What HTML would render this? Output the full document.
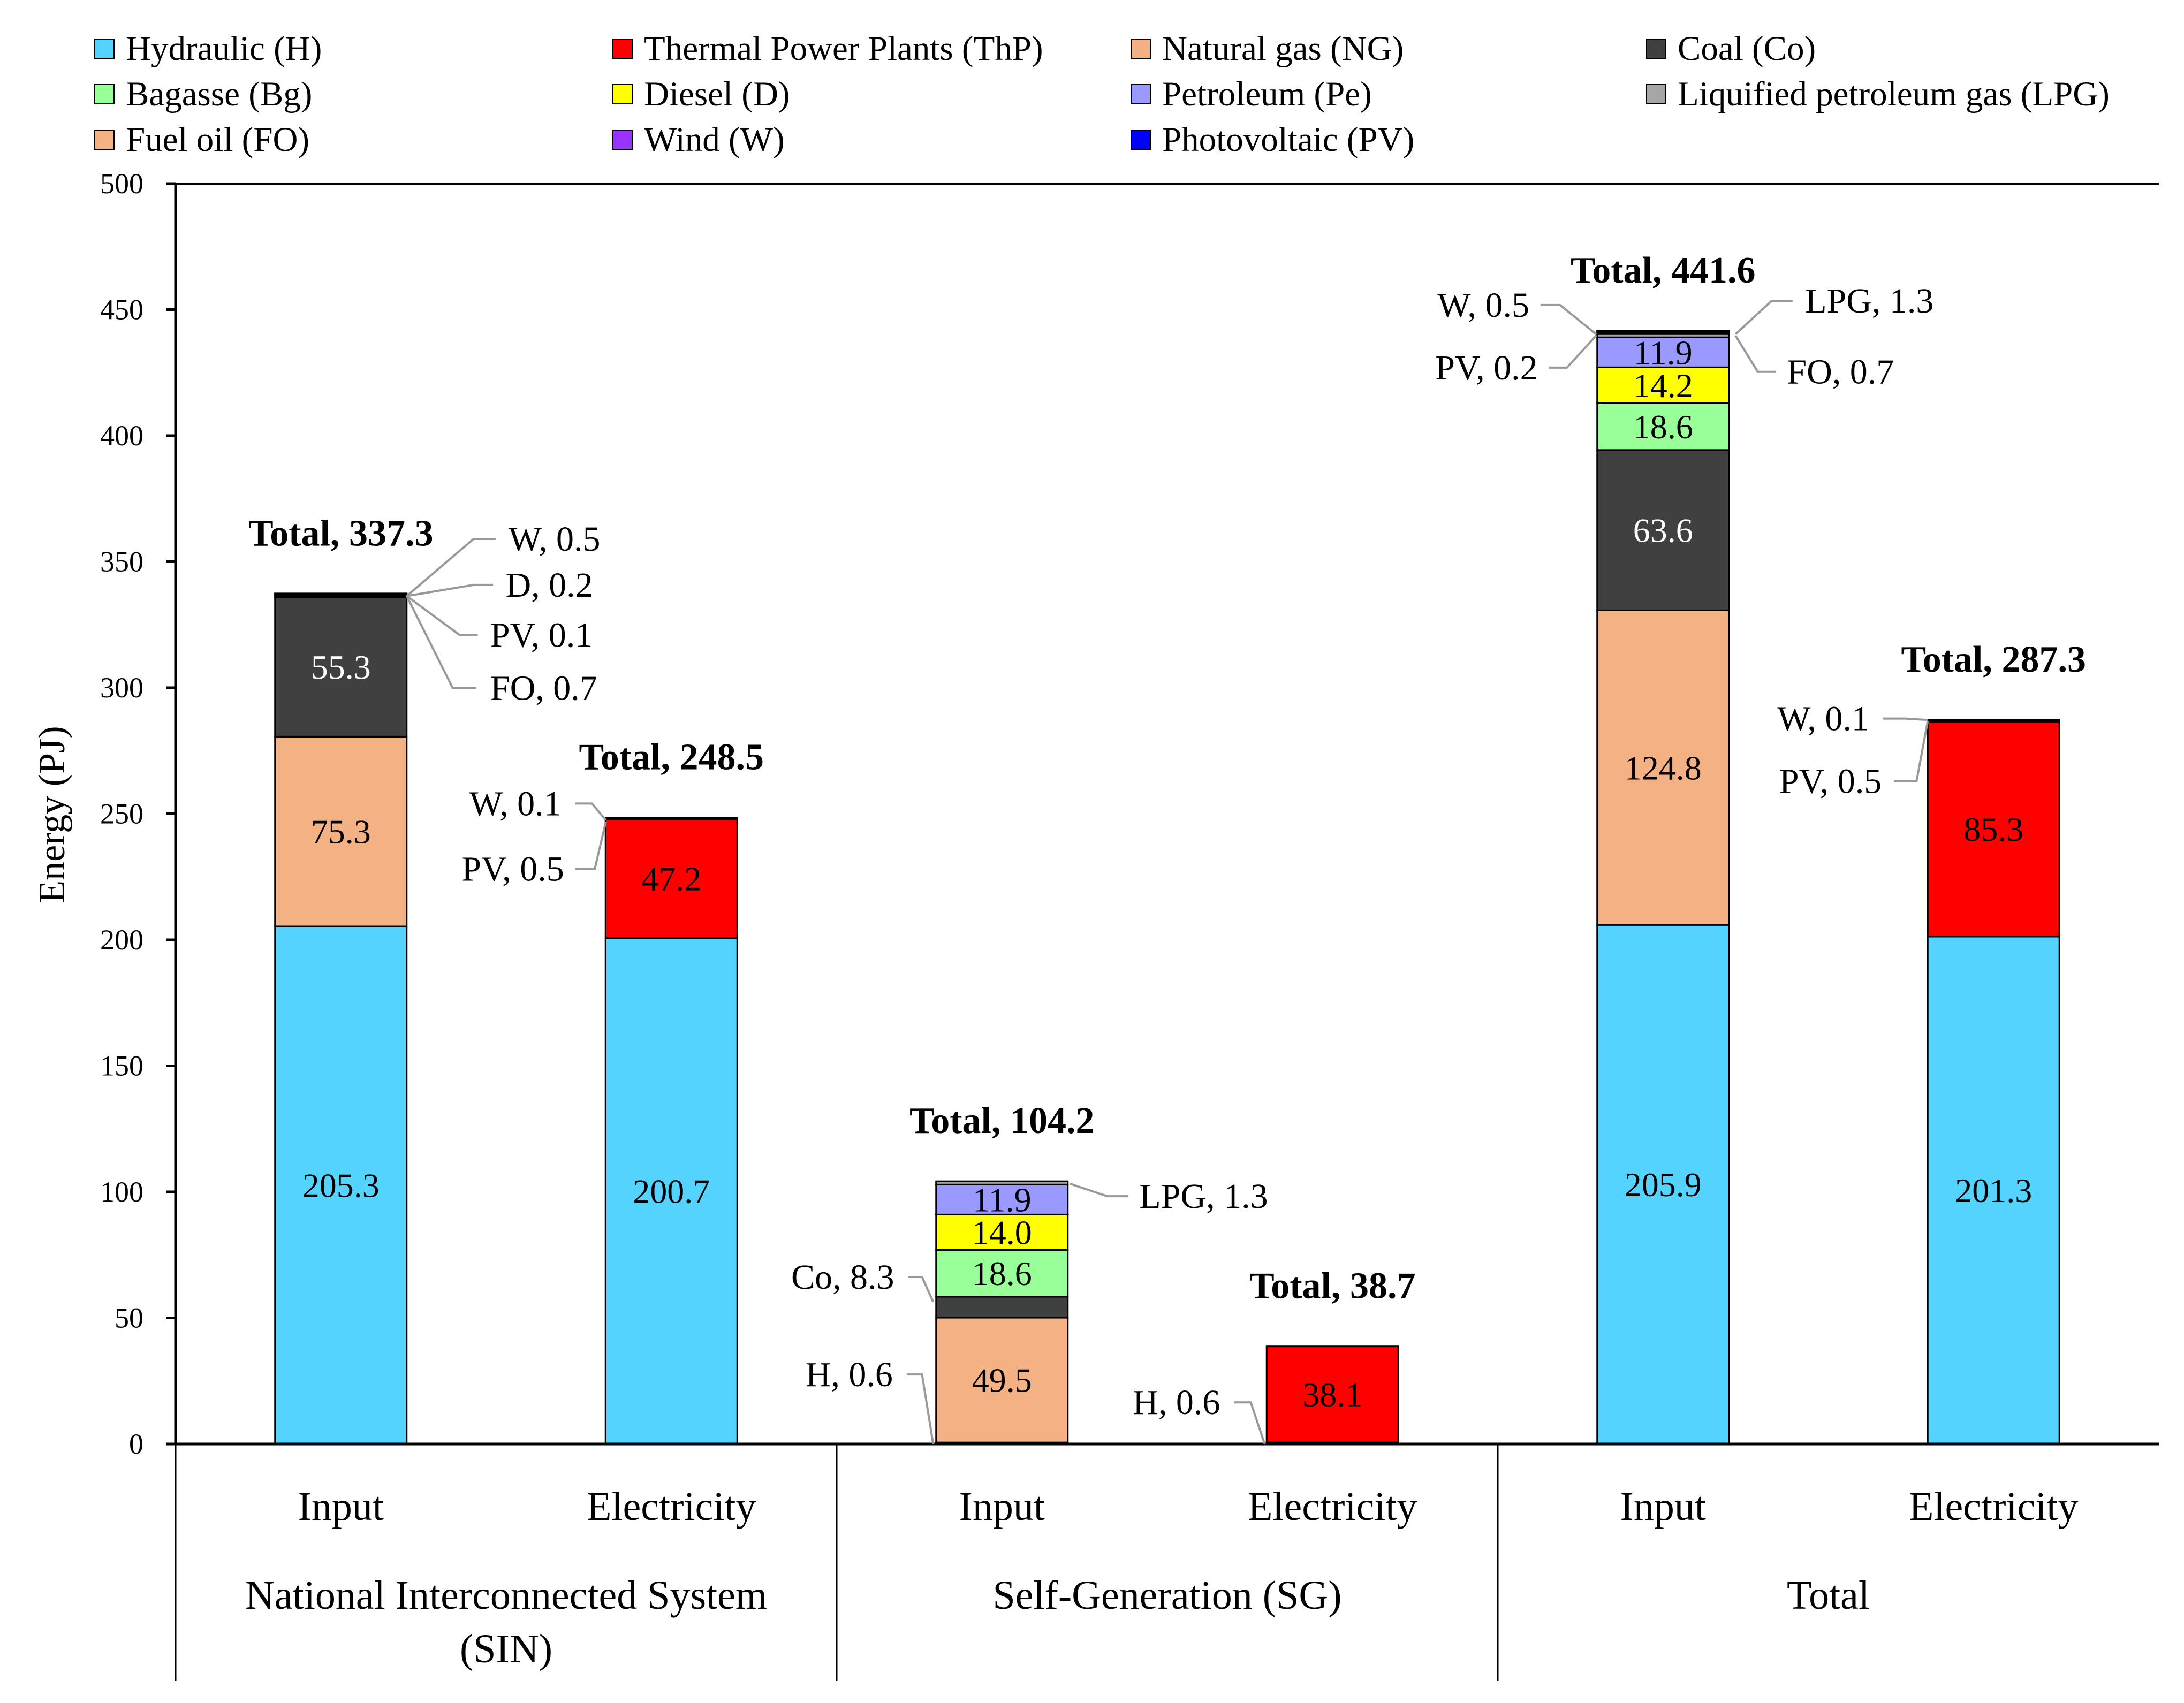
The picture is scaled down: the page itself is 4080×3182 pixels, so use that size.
<!DOCTYPE html>
<html><head><meta charset="utf-8"><style>
html,body{margin:0;padding:0;background:#fff;}
svg{display:block;font-family:"Liberation Serif",serif;}
</style></head><body>
<svg id="chart" width="4080" height="3182" viewBox="0 0 4080 3182" xmlns="http://www.w3.org/2000/svg"></svg>
<script>
const categories = ["SIN-Input","SIN-Electricity","SG-Input","SG-Electricity","Total-Input","Total-Electricity"];
const catLabels = ["Input","Electricity","Input","Electricity","Input","Electricity"];
const groupLabels = [["National Interconnected System","(SIN)"],["Self-Generation (SG)"],["Total"]];
const seriesNames = ["Hydraulic (H)","Thermal Power Plants (ThP)","Natural gas (NG)","Coal (Co)","Bagasse (Bg)","Diesel (D)","Petroleum (Pe)","Liquified petroleum gas (LPG)","Fuel oil (FO)","Wind (W)","Photovoltaic (PV)"];
const seriesColors = ["#55D3FF","#FF0000","#F4B183","#404040","#99FF99","#FFFF00","#9999FF","#A6A6A6","#F4B183","#9933FF","#0000FF"];
const H   = [205.3,200.7,0.6,0.6,205.9,201.3];
const ThP = [0,47.2,0,38.1,0,85.3];
const NG  = [75.3,0,49.5,0,124.8,0];
const Co  = [55.3,0,8.3,0,63.6,0];
const Bg  = [0,0,18.6,0,18.6,0];
const D   = [0.2,0,14.0,0,14.2,0];
const Pe  = [0,0,11.9,0,11.9,0];
const LPG = [0,0,1.3,0,1.3,0];
const FO  = [0.7,0,0,0,0.7,0];
const W   = [0.5,0.1,0,0,0.5,0.1];
const PV  = [0.1,0.5,0,0,0.2,0.5];
const totals = [337.3,248.5,104.2,38.7,441.6,287.3];
const yTicks = [0,50,100,150,200,250,300,350,400,450,500];
const series = [H,ThP,NG,Co,Bg,D,Pe,LPG,FO,W,PV];

const NS="http://www.w3.org/2000/svg";
const svg=document.getElementById('chart');
const X0=328, X1=4033, Y0=2698, Y500=343;
const catW=(X1-X0)/categories.length, barW=246;
function yScale(v){return Y0-(v/500)*(Y0-Y500);}
function xCenter(i){return X0+catW*(i+0.5);}
function mk(tag,attrs,text){const e=document.createElementNS(NS,tag);for(const k in attrs)e.setAttribute(k,attrs[k]);if(text!==undefined)e.textContent=text;svg.appendChild(e);return e;}

let e;
e=mk('line',{x1:X0,y1:Y500,x2:X0,y2:Y0,stroke:'#000','stroke-width':5});


e=mk('line',{x1:X0,y1:Y500,x2:X1,y2:Y500,stroke:'#000','stroke-width':4});


yTicks.forEach(t=>{
  const y=yScale(t);
  e=mk('line',{x1:X0-18,y1:y,x2:X0,y2:y,stroke:'#000','stroke-width':5});
  
  
  e=mk('text',{x:268,y:y+18,'font-size':54,'text-anchor':'end'},String(t));
  
  
});
e=mk('text',{x:0,y:0,'font-size':70,'text-anchor':'middle',transform:'translate(120,1522) rotate(-90)'},'Energy (PJ)');



categories.forEach((c,i)=>{
  let base=0;
  series.forEach((s,si)=>{
    const v=s[i]; if(!v) return;
    const yTop=yScale(base+v), yBot=yScale(base);
    e=mk('rect',{x:xCenter(i)-barW/2,y:yTop,width:barW,height:Math.max(yBot-yTop,1),fill:seriesColors[si],stroke:'#000','stroke-width':3});
    
    
    if(v>=10){
      e=mk('text',{x:xCenter(i),y:(yTop+yBot)/2+22,'font-size':64,'text-anchor':'middle',fill:(si===3?'#fff':'#000')},v.toFixed(1));
      
      
    }
    base+=v;
  });
  e=mk('text',{x:xCenter(i),y:yScale(totals[i])-90,'font-size':70,'font-weight':'bold','text-anchor':'middle','xml:space':'preserve'},'Total,  '+totals[i].toFixed(1));
  
  
});

e=mk('line',{x1:X0-18,y1:Y0,x2:X1,y2:Y0,stroke:'#000','stroke-width':5});


[0,1,2].forEach(g=>{
  const x=X0+g*2*catW;
  e=mk('line',{x1:x,y1:Y0,x2:x,y2:3140,stroke:'#000','stroke-width':3});
  
  
});
catLabels.forEach((l,i)=>{
  e=mk('text',{x:xCenter(i),y:2840,'font-size':76,'text-anchor':'middle'},l);
  
  
});
groupLabels.forEach((g,gi)=>{
  g.forEach((l,li)=>{
    e=mk('text',{x:X0+(gi*2+1)*catW,y:3006+li*100,'font-size':76,'text-anchor':'middle'},l);
    
    
  });
});

const legX=[177,1145,2113,3076], legY=[91,176,261];
seriesNames.forEach((n,i)=>{
  const r=Math.floor(i/4), col=i%4;
  e=mk('rect',{x:legX[col],y:legY[r]-18,width:36,height:36,fill:seriesColors[i],stroke:'#000','stroke-width':2});
  
  
  e=mk('text',{x:legX[col]+58,y:legY[r]+21,'font-size':65},n);
  
  
});

const k=2.602;
function callout(pts,tx,ty,anchor,txt){
  e=mk('polyline',{points:pts.map(p=>(p[0]*k)+','+(p[1]*k)).join(' '),fill:'none',stroke:'#999','stroke-width':4});
  
  
  e=mk('text',{x:tx*k,y:ty*k+22,'font-size':66,'text-anchor':anchor,'xml:space':'preserve'},txt);
  
  
}
callout([[292,428],[340,387],[356,387]],365,387,'start','W,  0.5');
callout([[292,428],[340,420],[354,420]],363,420,'start','D,  0.2');
callout([[292,428],[330,456],[343,456]],352,456,'start','PV,  0.1');
callout([[292,428],[325,494],[342,494]],352,494,'start','FO,  0.7');
callout([[413,577],[425,577],[435,589]],403,577,'end','W,  0.1');
callout([[413,624],[427,624],[435,590]],405,624,'end','PV,  0.5');
callout([[768,850],[795,859],[810,859]],818,859,'start','LPG,  1.3');
callout([[652,917],[662,917],[670,935]],642,917,'end','Co,  8.3');
callout([[651,987],[662,987],[670,1037]],641,987,'end','H,  0.6');
callout([[886,1007],[898,1007],[908,1037]],876,1007,'end','H,  0.6');
callout([[1106,219],[1120,219],[1146,240]],1098,219,'end','W,  0.5');
callout([[1112,264],[1125,264],[1146,241]],1104,264,'end','PV,  0.2');
callout([[1246,240],[1272,216],[1287,216]],1296,216,'start','LPG,  1.3');
callout([[1246,241],[1262,267],[1275,267]],1283,267,'start','FO,  0.7');
callout([[1352,516],[1368,516],[1384,517]],1342,516,'end','W,  0.1');
callout([[1360,561],[1376,561],[1384,518]],1351,561,'end','PV,  0.5');
</script>
</body></html>
